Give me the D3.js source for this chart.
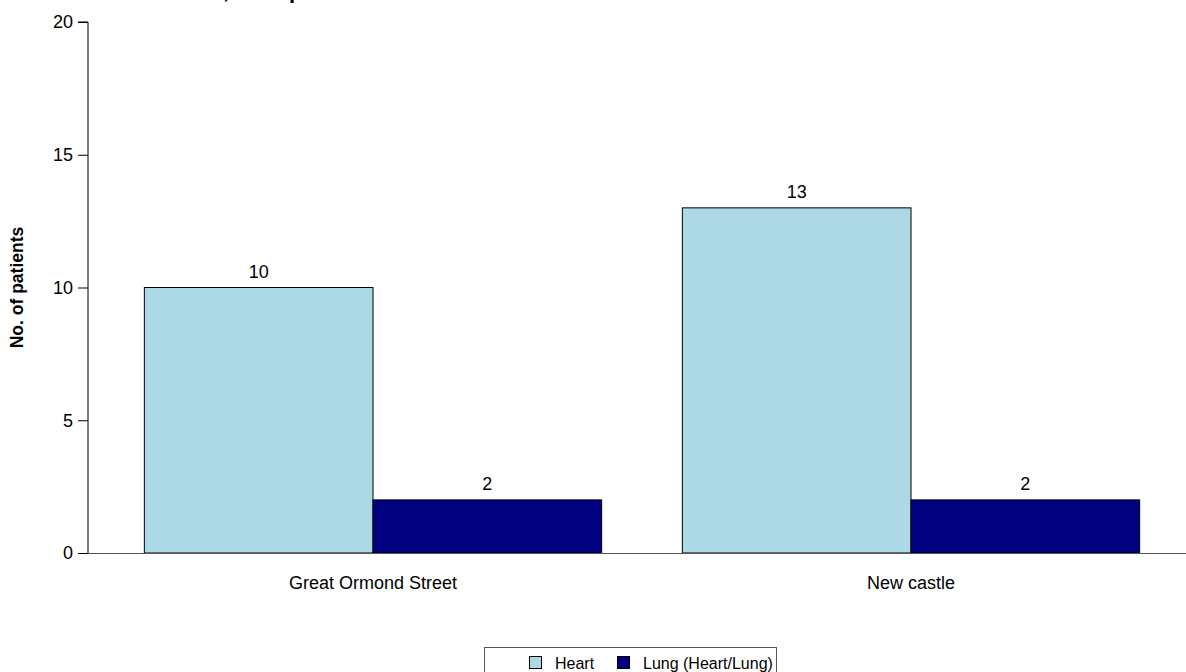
<!DOCTYPE html>
<html>
<head>
<meta charset="utf-8">
<script src="https://cdn.jsdelivr.net/npm/d3@7"></script>
<style>
  html, body { margin: 0; padding: 0; background: #fff; }
  svg { display: block; font-family: Arial, "Liberation Sans", sans-serif; }
</style>
</head>
<body>
<svg id="chart" width="1186" height="672"></svg>
<script>
// Patients per transplant centre, split by organ
const centres = ["Great Ormond Street", "New castle"];
const seriesNames = ["Heart", "Lung (Heart/Lung)"];
const heartValues = [10, 13];
const lungValues = [2, 2];
const yTicks = [0, 5, 10, 15, 20];
const seriesColors = ["#ADD8E6", "#000080"];

const rows = centres.map((c, i) => ({
  centre: c,
  values: [heartValues[i], lungValues[i]]
}));

const svg = d3.select("#chart");
const plot = { left: 88, right: 1186, top: 22, bottom: 553 };

const x0 = d3.scaleBand()
  .domain(centres)
  .range([104, 1180])
  .paddingInner(0.15)
  .paddingOuter(0.075);

const x1 = d3.scaleBand()
  .domain(seriesNames)
  .range([0, x0.bandwidth()])
  .padding(0);

const y = d3.scaleLinear()
  .domain([0, 20])
  .range([plot.bottom, plot.top]);

const color = d3.scaleOrdinal().domain(seriesNames).range(seriesColors);

// Title (sits mostly above the visible area)
const title = svg.append("text")
  .attr("y", -2)
  .attr("font-size", 22)
  .attr("font-weight", "bold")
  .attr("fill", "#000");
const lead = title.append("tspan").text("Patients assessed");
title.append("tspan").text(", transplanted");
const leadW = lead.node().getComputedTextLength();
title.attr("x", 223 - leadW);

// Bars
const groups = svg.append("g").selectAll("g")
  .data(rows)
  .join("g")
  .attr("transform", d => `translate(${x0(d.centre)},0)`);

groups.selectAll("rect")
  .data(d => seriesNames.map((s, j) => ({ key: s, value: d.values[j] })))
  .join("rect")
  .attr("x", d => x1(d.key))
  .attr("y", d => y(d.value))
  .attr("width", x1.bandwidth())
  .attr("height", d => y(0) - y(d.value))
  .attr("fill", d => color(d.key))
  .attr("stroke", "#000")
  .attr("stroke-width", 1);

groups.selectAll("text.val")
  .data(d => seriesNames.map((s, j) => ({ key: s, value: d.values[j] })))
  .join("text")
  .attr("class", "val")
  .attr("x", d => x1(d.key) + x1.bandwidth() / 2)
  .attr("y", d => y(d.value) - 10)
  .attr("text-anchor", "middle")
  .attr("font-size", 18)
  .attr("fill", "#000")
  .text(d => d.value);

// Y axis
const yAxis = d3.axisLeft(y)
  .tickValues(yTicks)
  .tickSize(10)
  .tickPadding(5)
  .tickFormat(d3.format("d"));

const gy = svg.append("g")
  .attr("transform", `translate(${plot.left},0)`)
  .call(yAxis);
gy.select(".domain").attr("stroke", "#000").attr("d", `M-10,${plot.top}H0V${plot.bottom}`);
gy.selectAll(".tick line").attr("stroke", "#000");
gy.selectAll(".tick text").attr("font-size", 18).attr("fill", "#000").attr("font-family", null);

// X axis
const xAxis = d3.axisBottom(x0).tickSize(0).tickPadding(23);
const gx = svg.append("g")
  .attr("transform", `translate(0,${plot.bottom})`)
  .call(xAxis);
gx.select(".domain").attr("stroke", "#555").attr("d", `M${plot.left},0.5H${plot.right}`);
gx.selectAll(".tick text").attr("font-size", 18).attr("fill", "#000").attr("font-family", null);

// Y axis title
svg.append("text")
  .attr("transform", `translate(23,${(plot.top + plot.bottom) / 2}) rotate(-90)`)
  .attr("text-anchor", "middle")
  .attr("font-size", 17.5)
  .attr("font-weight", "bold")
  .attr("fill", "#000")
  .text("No. of patients");

// Legend
const legend = svg.append("g").attr("transform", "translate(484,647)");
legend.append("rect")
  .attr("x", 0.5).attr("y", 0.5)
  .attr("width", 292).attr("height", 40)
  .attr("fill", "#fff")
  .attr("stroke", "#555");

const itemX = [45, 133];
const items = legend.selectAll("g.item")
  .data(seriesNames)
  .join("g")
  .attr("class", "item")
  .attr("transform", (d, i) => `translate(${itemX[i]},0)`);
items.append("rect")
  .attr("x", 0.5).attr("y", 9.5)
  .attr("width", 12).attr("height", 12)
  .attr("fill", d => color(d))
  .attr("stroke", "#000");
items.append("text")
  .attr("x", 26)
  .attr("y", 22)
  .attr("font-size", 16)
  .attr("fill", "#000")
  .text(d => d);
</script>
</body>
</html>
